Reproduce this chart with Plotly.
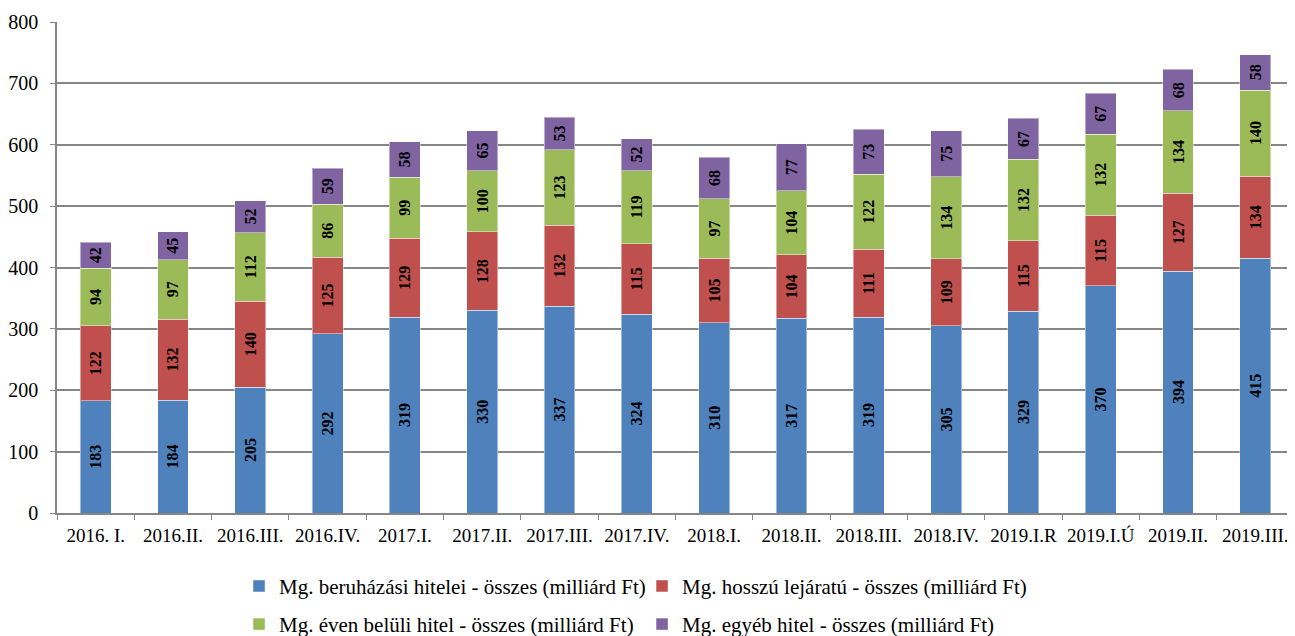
import plotly.graph_objects as go

categories = ["2016. I.", "2016.II.", "2016.III.", "2016.IV.", "2017.I.", "2017.II.", "2017.III.", "2017.IV.",
              "2018.I.", "2018.II.", "2018.III.", "2018.IV.", "2019.I.R", "2019.I.Ú", "2019.II.", "2019.III."]
beruhazasi = [183, 184, 205, 292, 319, 330, 337, 324, 310, 317, 319, 305, 329, 370, 394, 415]
hosszu = [122, 132, 140, 125, 129, 128, 132, 115, 105, 104, 111, 109, 115, 115, 127, 134]
even_beluli = [94, 97, 112, 86, 99, 100, 123, 119, 97, 104, 122, 134, 132, 132, 134, 140]
egyeb = [42, 45, 52, 59, 58, 65, 53, 52, 68, 77, 73, 75, 67, 67, 68, 58]

names = ["Mg. beruházási hitelei - összes (milliárd Ft)",
         "Mg. hosszú lejáratú - összes (milliárd Ft)",
         "Mg. éven belüli hitel - összes (milliárd Ft)",
         "Mg. egyéb hitel - összes (milliárd Ft)"]
colors = ["#4F81BD", "#C0504D", "#9BBB59", "#8064A2"]
series = [beruhazasi, hosszu, even_beluli, egyeb]
legends = ["legend", "legend2", "legend3", "legend4"]

FONT = "Liberation Serif"
LEG_FONT = dict(family=FONT, size=21)

fig = go.Figure()
for name, vals, col, lg in zip(names, series, colors, legends):
    fig.add_trace(go.Bar(
        x=categories, y=vals, name=name,
        marker=dict(color=col, line=dict(color="rgba(255,255,255,0.45)", width=1)),
        text=[str(v) for v in vals], textposition="inside", textangle=-90,
        insidetextanchor="middle", constraintext="none",
        textfont=dict(family=FONT, size=16, color="black", weight="bold"),
        legend=lg,
    ))


def leg(x, y):
    return dict(orientation="h", xref="container", yref="container",
                x=x, y=y, xanchor="left", yanchor="top",
                font=LEG_FONT, bgcolor="rgba(0,0,0,0)")


fig.update_layout(
    barmode="stack",
    bargap=0.6,
    width=1295, height=636,
    margin=dict(l=49, r=9, t=14, b=131, autoexpand=False),
    plot_bgcolor="white", paper_bgcolor="white",
    font=dict(family=FONT, size=20, color="black"),
    showlegend=True,
    legend=leg(0.1784, 0.123),
    legend2=leg(0.4896, 0.123),
    legend3=leg(0.1784, 0.063),
    legend4=leg(0.4896, 0.063),
)
fig.update_xaxes(
    type="category", showline=True, linecolor="#868686", linewidth=1.5,
    ticks="outside", tickson="boundaries", ticklen=5, tickcolor="#868686",
    ticklabelstandoff=4, tickangle=0,
    tickfont=dict(family=FONT, size=19), showgrid=False,
)
fig.update_yaxes(
    range=[0, 800], dtick=100, showline=True, linecolor="#868686", linewidth=1.5,
    ticks="outside", ticklen=5, tickcolor="#868686", ticklabelstandoff=8,
    showgrid=True, gridcolor="#868686", gridwidth=1.5,
    tickfont=dict(family=FONT, size=20), zeroline=False,
)

fig.write_html("out.html")
